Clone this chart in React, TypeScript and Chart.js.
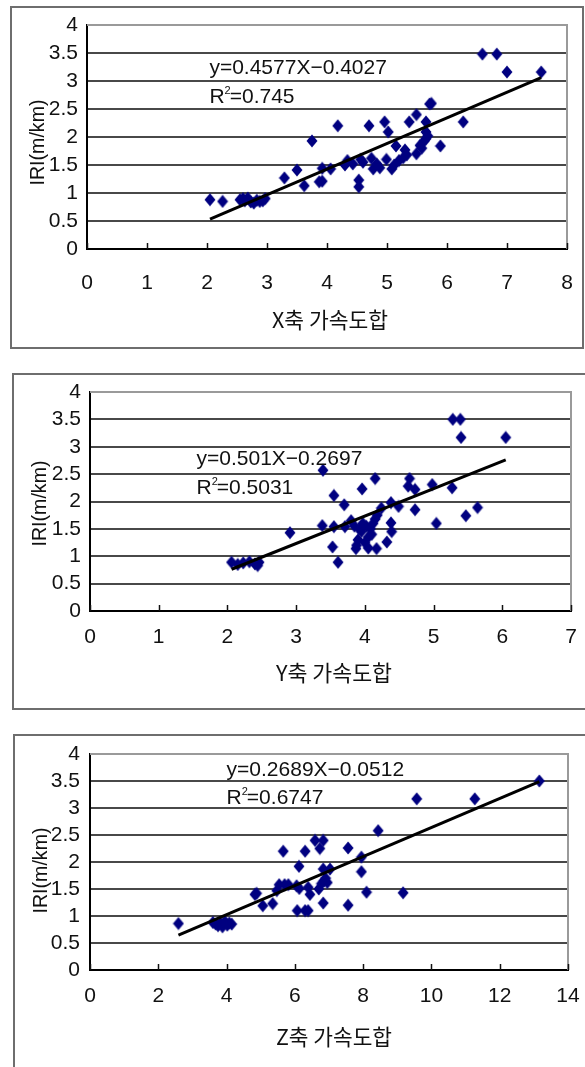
import React, { useEffect, useRef } from "react";
import { Chart, registerables } from "chart.js";

Chart.register(...registerables);

// ---------- data ----------
const xAccelSum = [2.05, 2.26, 2.55, 2.6, 2.63, 2.68, 2.73, 2.78, 2.83, 2.88, 2.93, 2.97, 3.29, 3.5, 3.62, 3.75, 3.87, 3.92, 3.92, 4.06, 4.18, 4.3, 4.34, 4.43, 4.53, 4.53, 4.56, 4.6, 4.7, 4.74, 4.77, 4.83, 4.88, 4.96, 5.02, 4.99, 5.08, 5.12, 5.15, 5.2, 5.27, 5.3, 5.33, 5.37, 5.49, 5.49, 5.55, 5.58, 5.62, 5.65, 5.65, 5.65, 5.68, 5.71, 5.74, 5.89, 6.27, 6.59, 6.83, 7.0, 7.57];
const xIri = [0.88, 0.85, 0.88, 0.9, 0.86, 0.91, 0.84, 0.82, 0.87, 0.85, 0.86, 0.9, 1.27, 1.41, 1.13, 1.93, 1.2, 1.21, 1.44, 1.43, 2.2, 1.5, 1.58, 1.52, 1.11, 1.23, 1.6, 1.55, 2.2, 1.62, 1.43, 1.52, 1.45, 2.27, 2.09, 1.6, 1.43, 1.5, 1.84, 1.58, 1.63, 1.77, 1.68, 2.27, 2.4, 1.7, 1.85, 1.8, 1.93, 2.09, 2.27, 1.97, 2.02, 2.59, 2.6, 1.84, 2.27, 3.48, 3.48, 3.16, 3.16];

const yAccelSum = [2.06, 2.15, 2.23, 2.32, 2.4, 2.46, 2.44, 2.91, 3.39, 3.38, 3.53, 3.55, 3.55, 3.61, 3.7, 3.71, 3.8, 3.85, 3.87, 3.88, 3.9, 3.92, 3.95, 3.96, 3.97, 4.0, 4.02, 4.05, 4.05, 4.08, 4.1, 4.12, 4.15, 4.15, 4.17, 4.18, 4.24, 4.32, 4.38, 4.39, 4.38, 4.49, 4.65, 4.63, 4.73, 4.73, 4.98, 5.04, 5.27, 5.28, 5.39, 5.4, 5.47, 5.64, 6.05];
const yIri = [0.89, 0.85, 0.88, 0.9, 0.86, 0.89, 0.83, 1.43, 2.57, 1.56, 1.17, 2.11, 1.54, 0.89, 1.94, 1.54, 1.65, 1.55, 1.14, 1.2, 1.3, 1.5, 1.45, 2.23, 1.6, 1.25, 1.55, 1.15, 1.35, 1.5, 1.4, 1.6, 1.68, 2.42, 1.14, 1.75, 1.88, 1.26, 1.61, 1.45, 1.98, 1.91, 2.42, 2.28, 2.22, 1.85, 2.31, 1.6, 2.25, 3.5, 3.5, 3.17, 1.74, 1.89, 3.17];

const zAccelSum = [2.59, 3.6, 3.68, 3.75, 3.82, 3.88, 3.95, 4.02, 4.08, 4.15, 4.83, 4.88, 5.06, 5.35, 5.47, 5.54, 5.66, 5.7, 5.81, 6.12, 6.05, 6.13, 6.07, 6.3, 6.39, 6.3, 6.39, 6.44, 6.59, 6.83, 6.73, 6.7, 6.78, 6.85, 6.9, 6.95, 6.83, 6.83, 7.03, 7.56, 7.56, 7.95, 7.95, 8.1, 8.44, 9.17, 9.57, 11.27, 13.16];
const zIri = [0.86, 0.88, 0.85, 0.82, 0.87, 0.8, 0.9, 0.83, 0.87, 0.85, 1.4, 1.42, 1.19, 1.23, 1.47, 1.58, 2.2, 1.58, 1.58, 1.92, 1.56, 1.51, 1.1, 1.1, 1.1, 2.2, 1.53, 1.4, 2.4, 2.4, 2.25, 1.5, 1.6, 1.65, 1.7, 1.62, 1.24, 1.87, 1.87, 2.26, 1.2, 2.09, 1.82, 1.44, 2.58, 1.43, 3.17, 3.17, 3.5];

const slopes = [0.4577, 0.501, 0.2689];
const intercepts = [-0.4027, -0.2697, -0.0512];
const equationTexts = ["y=0.4577X\u22120.4027", "y=0.501X\u22120.2697", "y=0.2689X\u22120.0512"];
const r2Texts = ["=0.745", "=0.5031", "=0.6747"];
const xTitles = ["X축 가속도합", "Y축 가속도합", "Z축 가속도합"];
const xMaxes = [8, 7, 14];
const xSteps = [1, 1, 2];
const yTitle = "IRI(m/km)";

const NUM_FONT = "'Liberation Sans', Arial, sans-serif";
const KR_FONT = "'Noto Sans CJK KR', sans-serif";
const TICK_SIZE = 21;
const EQ_SIZE = 21;

// ---------- layout (page pixels) ----------
type Layout = {
  box: [number, number, number, number];
  canvas: [number, number, number, number];
  padTop: number; padRight: number; yW: number; xH: number;
  xTickPad: number; yTickPad: number;
  xTitlePos: [number, number]; yTitlePos: [number, number];
  eqX: number; eqY1: number; eqY2: number;
};

const layouts: Layout[] = [
  { box: [10, 6, 574, 343], canvas: [12, 8, 570, 339], padTop: 17, padRight: 15, yW: 75, xH: 98, xTickPad: 24, yTickPad: 9, xTitlePos: [330, 320], yTitlePos: [39, 142.5], eqX: 2.04, eqY1: 3.23, eqY2: 2.71 },
  { box: [12, 373, 600, 337], canvas: [14, 375, 571, 333], padTop: 17, padRight: 14, yW: 76, xH: 97, xTickPad: 16, yTickPad: 9, xTitlePos: [334, 673], yTitlePos: [41, 503.5], eqX: 1.55, eqY1: 2.77, eqY2: 2.25 },
  { box: [13, 734, 600, 400], canvas: [15, 736, 570, 331], padTop: 18, padRight: 17, yW: 75, xH: 97, xTickPad: 16, yTickPad: 10, xTitlePos: [334, 1036.5], yTitlePos: [41.5, 870.5], eqX: 4.0, eqY1: 3.7, eqY2: 3.18 },
];

function makeDiamond(): HTMLCanvasElement {
  const c = document.createElement("canvas");
  c.width = 12;
  c.height = 14;
  const g = c.getContext("2d")!;
  g.fillStyle = "#000080";
  g.beginPath();
  g.moveTo(6, 0.5);
  g.lineTo(11.5, 7);
  g.lineTo(6, 13.5);
  g.lineTo(0.5, 7);
  g.closePath();
  g.fill();
  return c;
}

function fitFont(ctx: CanvasRenderingContext2D, text: string, family: string, target: number) {
  ctx.font = `20px ${family}`;
  const w = ctx.measureText(text).width || target;
  const size = Math.max(17, Math.min(26, (20 * target) / w));
  return `${size.toFixed(1)}px ${family}`;
}

const decorPlugin = {
  id: "decor",
  beforeDatasetsDraw(chart: any) {
    const { ctx, chartArea: a, scales } = chart;
    const x = scales.x;
    ctx.save();
    ctx.strokeStyle = "#9a9a9a";
    ctx.lineWidth = 2;
    ctx.beginPath();
    ctx.moveTo(a.left, a.top);
    ctx.lineTo(a.right, a.top);
    ctx.lineTo(a.right, a.bottom);
    ctx.stroke();
    ctx.strokeStyle = "#111";
    ctx.lineWidth = 1.5;
    x.ticks.forEach((t: any) => {
      const px = Math.round(x.getPixelForValue(t.value)) + 0.5;
      ctx.beginPath();
      ctx.moveTo(px, a.bottom);
      ctx.lineTo(px, a.bottom - 6);
      ctx.stroke();
    });
    ctx.restore();
  },
  afterDraw(chart: any, _args: any, opts: any) {
    const { ctx, scales } = chart;
    const x = scales.x, y = scales.y;
    const px = x.getPixelForValue(opts.eqX);
    ctx.save();
    ctx.fillStyle = "#111";
    ctx.textBaseline = "middle";
    ctx.textAlign = "left";
    ctx.font = `${EQ_SIZE}px ${NUM_FONT}`;
    ctx.fillText(opts.eq, px, y.getPixelForValue(opts.eqY1));
    const py2 = y.getPixelForValue(opts.eqY2);
    ctx.fillText("R", px, py2);
    const rw = ctx.measureText("R").width;
    ctx.font = `11px ${NUM_FONT}`;
    ctx.fillText("2", px + rw, py2 - 6);
    const sw = ctx.measureText("2").width;
    ctx.font = `${EQ_SIZE}px ${NUM_FONT}`;
    ctx.fillText(opts.r2, px + rw + sw - 1, py2);

    // axis titles
    ctx.textAlign = "center";
    ctx.font = fitFont(ctx, opts.xTitle, KR_FONT, 116);
    ctx.fillText(opts.xTitle, opts.xTitlePos[0], opts.xTitlePos[1]);
    ctx.font = fitFont(ctx, opts.yTitle, NUM_FONT, 86);
    ctx.translate(opts.yTitlePos[0], opts.yTitlePos[1]);
    ctx.rotate(-Math.PI / 2);
    ctx.fillText(opts.yTitle, 0, 0);
    ctx.restore();
  },
};

function Panel({ idx, xs, ys }: { idx: number; xs: number[]; ys: number[] }) {
  const ref = useRef<HTMLCanvasElement>(null);
  const L = layouts[idx];
  const [cx, cy, cw, ch] = L.canvas;
  useEffect(() => {
    const canvas = ref.current!;
    const pts = xs.map((v, i) => ({ x: v, y: ys[i] }));
    const xmin = Math.min(...xs);
    const xmax = Math.max(...xs);
    const trend = [
      { x: xmin, y: slopes[idx] * xmin + intercepts[idx] },
      { x: xmax, y: slopes[idx] * xmax + intercepts[idx] },
    ];
    const diamond = makeDiamond();
    const chart = new Chart(canvas, {
      type: "scatter",
      data: {
        datasets: [
          {
            type: "line",
            data: trend,
            borderColor: "#000",
            borderWidth: 3,
            pointRadius: 0,
            showLine: true,
            order: 0,
          } as any,
          {
            data: pts,
            pointStyle: diamond as any,
            pointRadius: 6,
            order: 1,
          },
        ],
      },
      options: {
        responsive: false,
        animation: false,
        devicePixelRatio: 1,
        layout: { padding: { top: L.padTop, right: L.padRight, left: 0, bottom: 0 } },
        plugins: {
          legend: { display: false },
          tooltip: { enabled: false },
          decor: {
            eq: equationTexts[idx],
            r2: r2Texts[idx],
            eqX: L.eqX,
            eqY1: L.eqY1,
            eqY2: L.eqY2,
            xTitle: xTitles[idx],
            yTitle: yTitle,
            xTitlePos: [L.xTitlePos[0] - cx, L.xTitlePos[1] - cy],
            yTitlePos: [L.yTitlePos[0] - cx, L.yTitlePos[1] - cy],
          },
        } as any,
        scales: {
          x: {
            type: "linear",
            min: 0,
            max: xMaxes[idx],
            ticks: {
              stepSize: xSteps[idx],
              padding: L.xTickPad,
              font: { family: NUM_FONT, size: TICK_SIZE, lineHeight: 1 },
              color: "#111",
              maxRotation: 0,
              autoSkip: false,
              callback: (v: any) => String(v),
            },
            grid: { display: true, drawOnChartArea: false, drawTicks: false },
            border: { display: true, color: "#000", width: 2 },
            afterFit: (s: any) => {
              s.height = L.xH;
              s.paddingLeft = 0;
              s.paddingRight = 0;
            },
          },
          y: {
            type: "linear",
            min: 0,
            max: 4,
            ticks: {
              stepSize: 0.5,
              padding: L.yTickPad,
              autoSkip: false,
              font: { family: NUM_FONT, size: TICK_SIZE, lineHeight: 1 },
              color: "#111",
              callback: (v: any) => String(v),
            },
            grid: {
              drawTicks: false,
              lineWidth: 2,
              color: (c: any) => (c.tick && c.tick.value === 4 ? "#9a9a9a" : "#484848"),
            },
            border: { display: true, color: "#000", width: 2 },
            afterFit: (s: any) => {
              s.width = L.yW;
              s.paddingTop = 0;
              s.paddingBottom = 0;
            },
          },
        },
      },
      plugins: [decorPlugin as any],
    });
    return () => chart.destroy();
  }, []);

  const [bx, by, bw, bh] = L.box;
  return (
    <>
      <div
        style={{
          position: "absolute",
          left: bx,
          top: by,
          width: bw,
          height: bh,
          border: "2px solid #6e6e6e",
          boxSizing: "border-box",
        }}
      />
      <canvas
        ref={ref}
        width={cw}
        height={ch}
        style={{ position: "absolute", left: cx, top: cy, width: cw, height: ch }}
      />
    </>
  );
}

export default function App() {
  return (
    <div
      style={{
        position: "absolute",
        left: 0,
        top: 0,
        width: 585,
        height: 1067,
        overflow: "hidden",
        background: "#fff",
      }}
    >
      <Panel idx={0} xs={xAccelSum} ys={xIri} />
      <Panel idx={1} xs={yAccelSum} ys={yIri} />
      <Panel idx={2} xs={zAccelSum} ys={zIri} />
    </div>
  );
}
